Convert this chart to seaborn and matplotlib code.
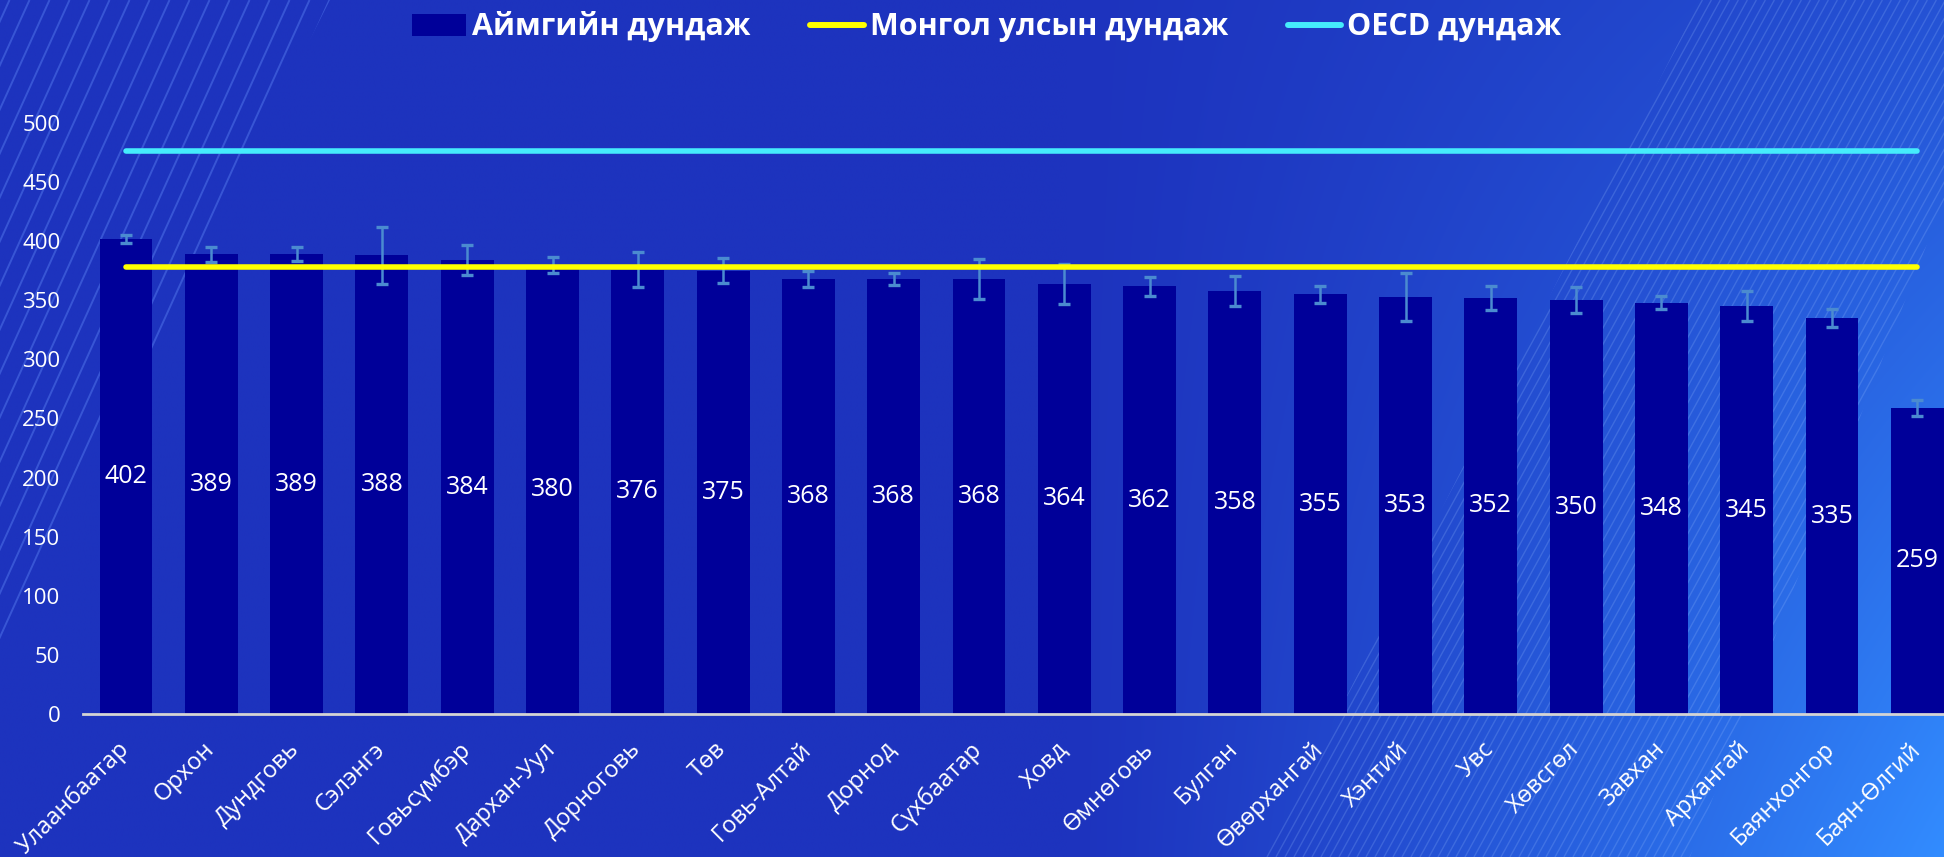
import numpy as np
import pandas as pd
import matplotlib
matplotlib.use("Agg")
import matplotlib.pyplot as plt
import matplotlib.transforms as mtransforms
from matplotlib.patches import Polygon, Patch
from matplotlib.lines import Line2D
from matplotlib.collections import LineCollection
import seaborn as sns

# ---------------- data ----------------
aimag = ["Улаанбаатар", "Орхон", "Дундговь", "Сэлэнгэ", "Говьсүмбэр", "Дархан-Уул",
         "Дорноговь", "Төв", "Говь-Алтай", "Дорнод", "Сүхбаатар", "Ховд", "Өмнөговь",
         "Булган", "Өвөрхангай", "Хэнтий", "Увс", "Хөвсгөл", "Завхан", "Архангай",
         "Баянхонгор", "Баян-Өлгий"]
scores = [402, 389, 389, 388, 384, 380, 376, 375, 368, 368, 368, 364, 362, 358,
          355, 353, 352, 350, 348, 345, 335, 259]
score_err = [3.5, 6.5, 6, 24, 13, 6.5, 14.5, 10.5, 7, 5, 17, 17, 8, 12.5,
             7, 20.5, 10, 11, 5.5, 12.5, 7.5, 6.5]
mongol_avg = 378
oecd_avg = 476
yticks = [0, 50, 100, 150, 200, 250, 300, 350, 400, 450, 500]
legend_labels = ["Аймгийн дундаж", "Монгол улсын дундаж", "OECD дундаж"]

# ---------------- style ----------------
sns.set_theme(style="white")
plt.rcParams["font.family"] = ["Open Sans", "DejaVu Sans"]

BAR = "#000099"
ERR = "#4b8bd0"
YEL = "#ffff00"
CYA = "#45ecfc"

W, H = 1944, 857
fig = plt.figure(figsize=(W / 100, H / 100), dpi=100)

# ---------------- background ----------------
bg = fig.add_axes([0, 0, 1, 1], zorder=0)
xx, yy = np.meshgrid(np.linspace(0, 1, 400), np.linspace(0, 1, 200))
t = np.clip((xx - 0.55) / 0.45, 0, 1) ** 1.2 * (0.35 + 0.65 * yy)
c0 = np.array([29, 51, 190]) / 255
c1 = np.array([50, 140, 255]) / 255
img = c0[None, None, :] * (1 - t[..., None]) + c1[None, None, :] * t[..., None]
bg.imshow(img, extent=(0, W, H, 0), aspect="auto", interpolation="bilinear")
bg.set_xlim(0, W)
bg.set_ylim(H, 0)
bg.axis("off")

# left stripes
segs = []
for x0 in range(-700, 400, 20):
    segs.append([(x0, H), (x0 + 0.4545 * H, 0)])
lc = LineCollection(segs, colors=(0.35, 0.5, 0.95, 0.45), linewidths=1.4)
bg.add_collection(lc)
clip_left = Polygon([(0, 0), (330, 0), (0, 650)], closed=True, transform=bg.transData)
lc.set_clip_path(clip_left)

# right stripes
segs = []
for x0 in range(700, 2000, 9):
    segs.append([(x0, H), (x0 + 0.55 * H, 0)])
lc2 = LineCollection(segs, colors=(0.6, 0.75, 1.0, 0.22), linewidths=1.0)
bg.add_collection(lc2)
clip_right = Polygon([(1700, 0), (1944, 0), (1944, 200), (1690, 857), (1265, 857)],
                     closed=True, transform=bg.transData)
lc2.set_clip_path(clip_right)

# ---------------- main axes ----------------
n = len(aimag)
step = 85.3
left_px = 126 - 0.5 * step
right_px = 126 + (n - 0.5) * step
ax = fig.add_axes([left_px / W, (H - 714) / H, (right_px - left_px) / W, (714 - 123) / H],
                  zorder=1)
ax.patch.set_alpha(0)

df = pd.DataFrame({"aimag": aimag, "score": scores})
sns.barplot(data=df, x="aimag", y="score", color=BAR, saturation=1, width=0.62,
            edgecolor="none", linewidth=0, ax=ax, zorder=2)
pos = np.arange(n)
ax.errorbar(pos, scores, yerr=score_err, fmt="none", ecolor=ERR, elinewidth=1.8,
            capsize=4.5, capthick=2.4, zorder=3)

line_df = pd.DataFrame({"x": pos, "mongol": [mongol_avg] * n, "oecd": [oecd_avg] * n})
sns.lineplot(data=line_df, x="x", y="mongol", color=YEL, linewidth=4.0,
             solid_capstyle="round", ax=ax, zorder=4)
sns.lineplot(data=line_df, x="x", y="oecd", color=CYA, linewidth=4.0,
             solid_capstyle="round", ax=ax, zorder=4)

ax.bar_label(ax.containers[0], labels=[str(v) for v in scores], label_type="center",
             color="white", fontsize=18)

ax.set_xlim(-0.5, n - 0.5)
ax.set_ylim(0, 500)
ax.set_yticks(yticks)
ax.set_yticklabels([str(v) for v in yticks], color="white", fontsize=16)
ax.set_xticks(pos)
ax.set_xticklabels(aimag, rotation=45, ha="right", va="baseline",
                   rotation_mode="anchor", color="white", fontsize=17)
ax.tick_params(axis="x", length=0, pad=26)
ax.tick_params(axis="y", length=0, pad=16.5)
off = mtransforms.ScaledTranslation(4 / 100, 0, fig.dpi_scale_trans)
for lbl in ax.get_xticklabels():
    lbl.set_transform(lbl.get_transform() + off)
ax.set_xlabel("")
ax.set_ylabel("")
for s in ["left", "top", "right"]:
    ax.spines[s].set_visible(False)
ax.spines["bottom"].set_color("#d4d4d4")
ax.spines["bottom"].set_linewidth(2)
ax.grid(False)

# ---------------- legend ----------------
handles = [Patch(facecolor=BAR, edgecolor="none"),
           Line2D([], [], color=YEL, linewidth=4.3, solid_capstyle="round"),
           Line2D([], [], color=CYA, linewidth=4.3, solid_capstyle="round")]
leg = fig.legend(handles, legend_labels, loc="center", bbox_to_anchor=(987 / W, 1 - 27 / H),
                 ncol=3, frameon=False, handlelength=1.75, handleheight=0.7,
                 handletextpad=0.2, columnspacing=1.95,
                 prop={"family": ["Open Sans", "DejaVu Sans"], "weight": "bold", "size": 22})
for txt in leg.get_texts():
    txt.set_color("white")

fig.savefig("out.png", dpi=100)
